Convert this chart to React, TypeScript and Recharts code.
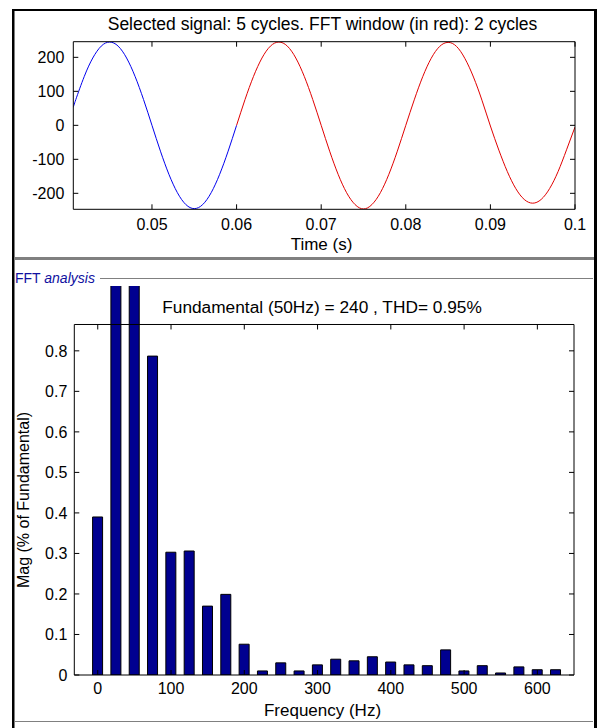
import React from 'react';
import { ComposedChart, Line, Bar, XAxis, YAxis, ReferenceLine } from 'recharts';

const FONT = '"Liberation Sans", Arial, Helvetica, sans-serif';

// ---------- Top chart: selected signal ----------
const timeBlue = [0.0407, 0.041, 0.042, 0.043, 0.044, 0.045, 0.046, 0.047, 0.048, 0.049, 0.05,
  0.051, 0.052, 0.053, 0.054, 0.055, 0.056, 0.057, 0.058, 0.059, 0.06];
const signalBlue = [53, 76, 144, 198, 233, 245, 233, 198, 144, 76, 0,
  -76, -144, -198, -233, -245, -233, -198, -144, -76, 0];

const timeRed = [0.06, 0.061, 0.062, 0.063, 0.064, 0.065, 0.066, 0.067, 0.068, 0.069, 0.07,
  0.071, 0.072, 0.073, 0.074, 0.075, 0.076, 0.077, 0.078, 0.079, 0.08,
  0.081, 0.082, 0.083, 0.084, 0.085, 0.086, 0.087, 0.088, 0.089, 0.09,
  0.091, 0.092, 0.093, 0.094, 0.095, 0.096, 0.097, 0.098, 0.099, 0.1];
const signalRed = [0, 76, 144, 198, 233, 245, 233, 198, 144, 76, 0,
  -76, -144, -198, -233, -246, -233, -198, -144, -76, 0,
  75, 143, 197, 232, 244, 232, 196, 142, 74, -2,
  -73, -136, -186, -218, -229, -218, -186, -136, -72, -5];

const timeTicks = [0.05, 0.06, 0.07, 0.08, 0.09, 0.1];
const signalTicks = [-200, -100, 0, 100, 200];
const timeDomain: [number, number] = [0.0407, 0.1];
const signalDomain: [number, number] = [-247, 246];

// ---------- Bottom chart: FFT spectrum ----------
const freqs = [0, 25, 50, 75, 100, 125, 150, 175, 200, 225, 250, 275, 300, 325, 350, 375,
  400, 425, 450, 475, 500, 525, 550, 575, 600, 625];
const mags = [0.39, 1.3, 100, 0.787, 0.303, 0.306, 0.17, 0.199, 0.076, 0.01, 0.03, 0.01,
  0.025, 0.039, 0.035, 0.045, 0.032, 0.025, 0.023, 0.062, 0.01, 0.023, 0.005, 0.02, 0.013, 0.013];
const freqTicks = [0, 100, 200, 300, 400, 500, 600];
const magTicks = [0, 0.1, 0.2, 0.3, 0.4, 0.5, 0.6, 0.7, 0.8];
const freqDomain: [number, number] = [-32, 650];
const magDomain: [number, number] = [0, 0.96];
const magFrameTop = 0.865;
const magTickLen = 0.0123;

const blueData = timeBlue.map((t, i) => ({ t, v: signalBlue[i] }));
const redData = timeRed.map((t, i) => ({ t, v: signalRed[i] }));
const spectrum = freqs.map((f, i) => ({ f, m: mags[i] }));

const tickStyle = { fill: '#000', fontSize: 16, fontFamily: FONT };
const noLabel = () => '';

export default function App() {
  return (
    <div style={{ position: 'absolute', left: 0, top: 0, width: 598, height: 728, background: '#fff', overflow: 'hidden' }}>
      <div style={{ position: 'absolute', left: 0, top: 0 }}>
        <ComposedChart width={598} height={258} margin={{ top: 31.7, right: 13, bottom: 0, left: 13.3 }}>
          <XAxis xAxisId="b" type="number" dataKey="t" domain={timeDomain} ticks={timeTicks} allowDataOverflow
            orientation="bottom" height={48.7} stroke="#000" tickSize={-5} tickMargin={14} tick={tickStyle} interval={0} />
          <XAxis xAxisId="t" type="number" dataKey="t" domain={timeDomain} ticks={timeTicks} allowDataOverflow
            orientation="top" height={10} stroke="#000" tickSize={-5} tick={tickStyle} tickFormatter={noLabel} interval={0} />
          <YAxis yAxisId="l" type="number" domain={signalDomain} ticks={signalTicks} allowDataOverflow
            width={60} stroke="#000" tickSize={-5} tickMargin={14} tick={tickStyle} interval={0} />
          <YAxis yAxisId="r" orientation="right" type="number" domain={signalDomain} ticks={signalTicks} allowDataOverflow
            width={10} stroke="#000" tickSize={-5} tick={tickStyle} tickFormatter={noLabel} interval={0} />
          <Line xAxisId="b" yAxisId="l" data={blueData} dataKey="v" type="natural" stroke="#0000ee" strokeWidth={1}
            dot={false} activeDot={false} isAnimationActive={false} />
          <Line xAxisId="t" yAxisId="r" data={redData} dataKey="v" type="natural" stroke="#e00000" strokeWidth={1}
            dot={false} activeDot={false} isAnimationActive={false} />
        </ComposedChart>
      </div>

      <div style={{ position: 'absolute', left: 0, top: 260 }}>
        <ComposedChart width={598} height={468} data={spectrum} margin={{ top: 26, right: 14, bottom: 0, left: 14.3 }}>
          <XAxis xAxisId="b" type="number" dataKey="f" domain={freqDomain} ticks={freqTicks} allowDataOverflow
            height={53} stroke="#000" tickSize={-5} tickMargin={13} tick={tickStyle} interval={0} />
          <YAxis yAxisId="l" type="number" domain={magDomain} ticks={magTicks} allowDataOverflow
            width={60} stroke="#000" axisLine={false} tickSize={-5} tickMargin={12} tick={tickStyle} interval={0} />
          <YAxis yAxisId="r" orientation="right" type="number" domain={magDomain} ticks={magTicks} allowDataOverflow
            width={10} stroke="#000" axisLine={false} tickSize={-5} tick={tickStyle} tickFormatter={noLabel} interval={0} />
          <Bar xAxisId="b" yAxisId="l" dataKey="m" barSize={10} fill="#000090" stroke="#000" strokeWidth={1}
            isAnimationActive={false} />
          <Line xAxisId="b" yAxisId="r" dataKey="m" stroke="none" dot={false} activeDot={false}
            isAnimationActive={false} legendType="none" />
          <ReferenceLine xAxisId="b" yAxisId="l" ifOverflow="visible" stroke="#000"
            segment={[{ x: freqDomain[0], y: magFrameTop }, { x: freqDomain[1], y: magFrameTop }]} />
          <ReferenceLine xAxisId="b" yAxisId="l" ifOverflow="visible" stroke="#000"
            segment={[{ x: freqDomain[0], y: 0 }, { x: freqDomain[0], y: magFrameTop }]} />
          <ReferenceLine xAxisId="b" yAxisId="l" ifOverflow="visible" stroke="#000"
            segment={[{ x: freqDomain[1], y: 0 }, { x: freqDomain[1], y: magFrameTop }]} />
          {freqTicks.map((f) => (
            <ReferenceLine key={f} xAxisId="b" yAxisId="l" ifOverflow="visible" stroke="#000"
              segment={[{ x: f, y: magFrameTop }, { x: f, y: magFrameTop - magTickLen }]} />
          ))}
        </ComposedChart>
      </div>

      <svg width={598} height={728} style={{ position: 'absolute', left: 0, top: 0, pointerEvents: 'none' }}>
        <rect x={12} y={9} width={585} height={2} fill="#000" />
        <rect x={12} y={9} width={2.5} height={719} fill="#000" />
        <rect x={594} y={9} width={3} height={719} fill="#000" />
        <rect x={14.5} y={257} width={579.5} height={3} fill="#808080" />
        <line x1={100} y1={278.5} x2={593} y2={278.5} stroke="#808080" strokeWidth={1} />
        <line x1={14.5} y1={721.5} x2={593} y2={721.5} stroke="#808080" strokeWidth={1} />
        <text x={15} y={283} fontFamily={FONT} fontSize={14} fill="#1010a0">
          FFT <tspan fontStyle="italic">analysis</tspan>
        </text>
        <text x={322.5} y={29.5} textAnchor="middle" fontFamily={FONT} fontSize={17.5} fill="#000">
          Selected signal: 5 cycles. FFT window (in red): 2 cycles
        </text>
        <text x={321.5} y={250} textAnchor="middle" fontFamily={FONT} fontSize={17} fill="#000">
          Time (s)
        </text>
        <text x={322} y={313} textAnchor="middle" fontFamily={FONT} fontSize={17.3} fill="#000">
          Fundamental (50Hz) = 240 , THD= 0.95%
        </text>
        <text x={322.5} y={715.5} textAnchor="middle" fontFamily={FONT} fontSize={17} fill="#000">
          Frequency (Hz)
        </text>
        <text transform="translate(29,500) rotate(-90)" textAnchor="middle" fontFamily={FONT} fontSize={16} fill="#000">
          Mag (% of Fundamental)
        </text>
      </svg>
    </div>
  );
}
